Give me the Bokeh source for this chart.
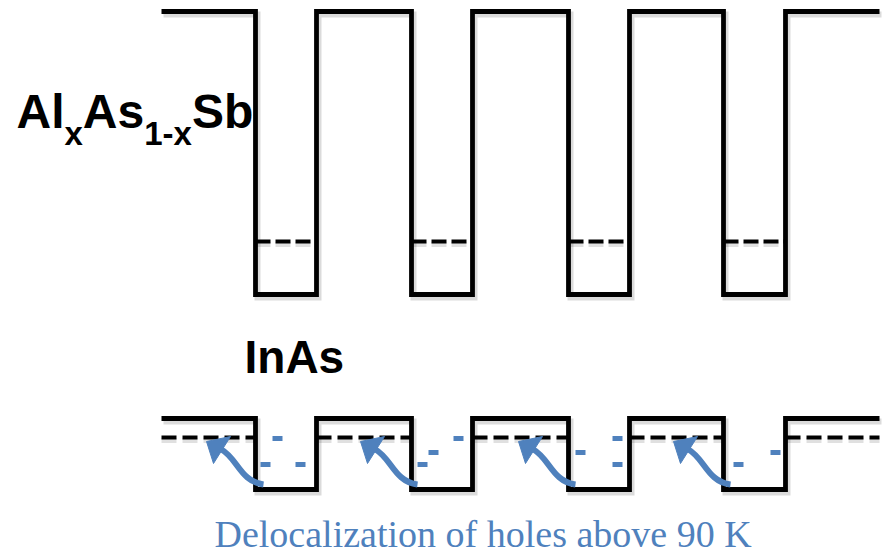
from bokeh.plotting import figure
from bokeh.models import Range1d
from bokeh.core.properties import value
from bokeh.embed import file_html
from bokeh.resources import INLINE

# Superlattice geometry (screen-like units, y grows downward)
well_left = [255, 411, 568, 723]
well_right = [316, 472, 629, 785]
x_start, x_end = 161, 879

# Conduction band (AlxAs1-xSb barriers / InAs wells)
cb_top, cb_bottom, cb_level = 11, 294, 241
# Valence band
vb_top, vb_bottom, vb_level = 418, 489, 437

# Hole states inside the valence-band wells
hole_x = [277, 265, 300, 433, 422, 458, 580, 617, 617, 738, 775]
hole_y = [438, 464, 464, 452, 464, 438, 452, 438, 464, 464, 452]

# Thermal escape arrows (tail positions)
arrow_x = [263, 417, 575, 730]
arrow_y = [484, 484, 484, 484]

BLUE = "#4F81BD"

W, H = 885, 553
p = figure(width=W, height=H, output_backend="svg", toolbar_location=None,
           x_range=Range1d(0, W), y_range=Range1d(H, 0),
           min_border=0, outline_line_color=None)
p.axis.visible = False
p.grid.visible = False
p.background_fill_color = "white"


def band_path(top, bottom):
    xs, ys = [x_start], [top]
    for l, r in zip(well_left, well_right):
        xs += [l, l, r, r]
        ys += [top, bottom, bottom, top]
    xs.append(x_end)
    ys.append(top)
    return xs, ys


for top, bottom in [(cb_top, cb_bottom), (vb_top, vb_bottom)]:
    xs, ys = band_path(top, bottom)
    # soft drop shadow
    p.line([x + 2 for x in xs], [y + 3 for y in ys], line_width=6,
           line_color="black", line_alpha=0.14, line_join="miter")
    p.line(xs, ys, line_width=4.8, line_color="black", line_join="miter")

# confined electron level in each well
for l, r in zip(well_left, well_right):
    p.line([l, r], [cb_level + 3, cb_level + 3], line_width=5, line_color="black",
           line_alpha=0.12, line_dash="15 5")
    p.line([l, r], [cb_level, cb_level], line_width=4, line_color="black",
           line_dash="15 5")

# hole level running through the barriers
edges = [x_start] + [v for pair in zip(well_left, well_right) for v in pair] + [x_end]
for a, b in zip(edges[0::2], edges[1::2]):
    p.line([a, b], [vb_level + 3, vb_level + 3], line_width=5, line_color="black",
           line_alpha=0.12, line_dash="15 6")
    p.line([a, b], [vb_level, vb_level], line_width=4, line_color="black",
           line_dash="15 6")

# localized hole states
p.segment(x0=[x - 5 for x in hole_x], y0=hole_y, x1=[x + 5 for x in hole_x], y1=hole_y,
          line_width=5, line_color=BLUE)

# curved arrows
p.bezier(x0=arrow_x, y0=arrow_y,
         cx0=[x - 23 for x in arrow_x], cy0=[y - 3 for y in arrow_y],
         cx1=[x - 26 for x in arrow_x], cy1=[y - 26 for y in arrow_y],
         x1=[x - 42 for x in arrow_x], y1=[y - 35 for y in arrow_y],
         line_width=6, line_color=BLUE)
p.patches(xs=[[x - 57, x - 50, x - 33] for x in arrow_x],
          ys=[[y - 43, y - 21, y - 48] for y in arrow_y],
          fill_color=BLUE, line_color=BLUE, line_width=1)

# labels (y is adjusted for how the svg backend places the alphabetic baseline)
F, S = 48, 33
sans = value("Liberation Sans")
pieces = [("Al", F, 1.0), ("x", S, 0.556), ("As", F, 1.278), ("1-x", S, 1.445), ("Sb", F, 1.278)]
xpos = 16
for txt, size, em in pieces:
    base = 111 if size == F else 133
    p.text(x=[xpos], y=[base], text=[txt], text_font=sans, text_font_style="bold",
           text_font_size=f"{size}px", text_color="black", text_baseline="alphabetic",
           text_align="left")
    xpos += em * size

p.text(x=[244], y=[356], text=["InAs"], text_font=sans, text_font_style="bold",
       text_font_size="46px", text_color="black", text_baseline="alphabetic")

p.text(x=[214], y=[533], text=["Delocalization of holes above 90 K"],
       text_font=value("Liberation Serif"), text_font_size="38px",
       text_color=BLUE, text_baseline="alphabetic")

open("out.html", "w").write(file_html(p, INLINE))
